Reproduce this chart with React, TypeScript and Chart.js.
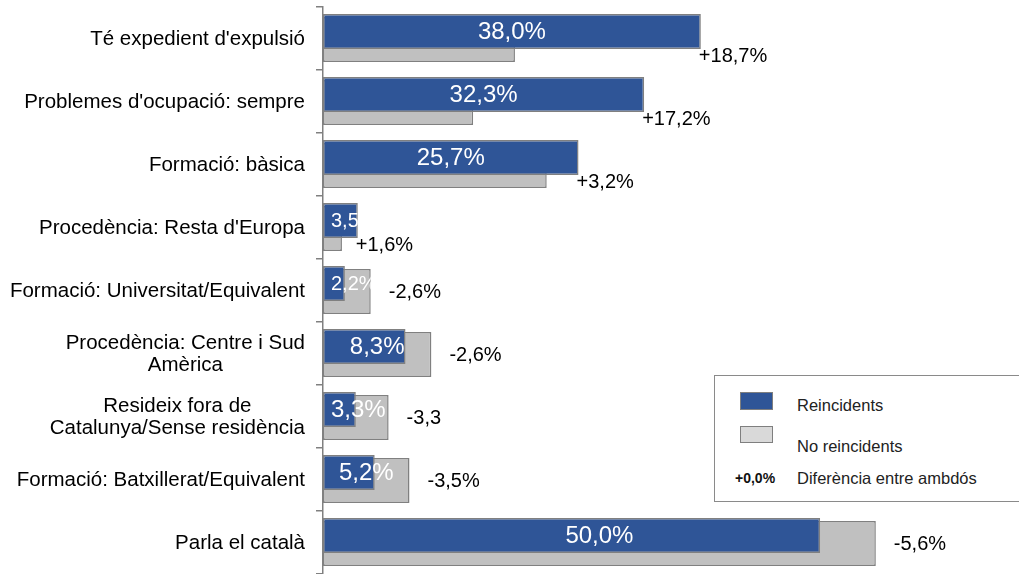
import React, { useEffect, useRef } from "react";
import { Chart, registerables } from "chart.js";

Chart.register(...registerables);

const CATEGORIES: (string | string[])[] = [
  "Té expedient d'expulsió",
  "Problemes d'ocupació: sempre",
  "Formació: bàsica",
  "Procedència: Resta d'Europa",
  "Formació: Universitat/Equivalent",
  ["Procedència: Centre i Sud", "Amèrica"],
  ["Resideix fora de", "Catalunya/Sense residència"],
  "Formació: Batxillerat/Equivalent",
  "Parla el català",
];
const REINCIDENTS = [38.0, 32.3, 25.7, 3.5, 2.2, 8.3, 3.3, 5.2, 50.0];
const NO_REINCIDENTS = [19.3, 15.1, 22.5, 1.9, 4.8, 10.9, 6.6, 8.7, 55.6];
const DIFF_LABELS = ["+18,7%", "+17,2%", "+3,2%", "+1,6%", "-2,6%", "-2,6%", "-3,3", "-3,5%", "-5,6%"];
const X_MIN = 0;
const X_MAX = 70;

const FONT = "'Liberation Sans', Arial, Helvetica, sans-serif";
const BLUE = "#2F5597";
const GRAY = "#C0C0C0";
const EDGE = "#808080";

const overlayPlugin = {
  id: "overlay",
  afterDatasetsDraw(chart: any) {
    const ctx: CanvasRenderingContext2D = chart.ctx;
    const blue = chart.getDatasetMeta(0).data;
    const gray = chart.getDatasetMeta(1).data;
    const yScale = chart.scales.y;
    ctx.save();

    // value labels inside blue bars
    REINCIDENTS.forEach((v, i) => {
      const b: any = blue[i];
      const g: any = gray[i];
      const left = b.base;
      const longer = Math.max(b.x, g.x);
      const text = v.toFixed(1).replace(".", ",") + "%";
      let size = 24;
      ctx.font = `${size}px ${FONT}`;
      let w = ctx.measureText(text).width;
      const avail = (longer - left) * 0.92;
      if (w > avail) {
        size = Math.max(20, (size * avail) / w);
        ctx.font = `${size}px ${FONT}`;
        w = ctx.measureText(text).width;
      }
      let cx = (left + longer) / 2;
      if (cx - w / 2 < left + 8) cx = left + 8 + w / 2;
      ctx.save();
      ctx.beginPath();
      const top = b.y - b.height / 2;
      const bottom = g.y + g.height / 2;
      ctx.rect(left, top, longer - left, bottom - top);
      ctx.clip();
      ctx.fillStyle = "#ffffff";
      ctx.textAlign = "center";
      ctx.textBaseline = "middle";
      ctx.fillText(text, cx, b.y + 1);
      ctx.restore();
    });

    // difference labels
    ctx.font = `20px ${FONT}`;
    ctx.fillStyle = "#000000";
    ctx.textAlign = "left";
    ctx.textBaseline = "middle";
    DIFF_LABELS.forEach((t, i) => {
      const b: any = blue[i];
      const g: any = gray[i];
      const c = yScale.getPixelForValue(i);
      const positive = REINCIDENTS[i] >= NO_REINCIDENTS[i];
      if (positive) {
        ctx.fillText(t, b.x - 2, c + 18);
      } else {
        ctx.fillText(t, Math.max(b.x, g.x) + 18, c + 2);
      }
    });

    // category labels (multi-line blocks centred, blocks right-aligned)
    ctx.font = `20.5px ${FONT}`;
    ctx.fillStyle = "#000000";
    ctx.textAlign = "center";
    ctx.textBaseline = "middle";
    const right = 305;
    const lh = 22;
    CATEGORIES.forEach((cat, i) => {
      const lines = Array.isArray(cat) ? cat : [cat];
      const bw = Math.max(...lines.map((l) => ctx.measureText(l).width));
      const cx = right - bw / 2;
      const c = yScale.getPixelForValue(i);
      const y0 = c - ((lines.length - 1) * lh) / 2;
      lines.forEach((l, k) => ctx.fillText(l, cx, y0 + k * lh + 1));
    });

    ctx.restore();
  },
};

export default function App() {
  const ref = useRef<HTMLCanvasElement | null>(null);

  useEffect(() => {
    if (!ref.current) return;
    const chart = new Chart(ref.current, {
      type: "bar",
      data: {
        labels: CATEGORIES.map((c) => (Array.isArray(c) ? c.join(" ") : c)),
        datasets: [
          {
            label: "Reincidents",
            data: REINCIDENTS,
            backgroundColor: BLUE,
            borderColor: EDGE,
            borderWidth: 1.5,
            borderSkipped: false,
            categoryPercentage: 0.444,
            barPercentage: 2.5,
          } as any,
          {
            label: "No reincidents",
            data: NO_REINCIDENTS,
            backgroundColor: GRAY,
            borderColor: EDGE,
            borderWidth: 1.5,
            borderSkipped: false,
            categoryPercentage: 0.0635,
            barPercentage: 22.5,
          } as any,
        ],
      },
      options: {
        responsive: false,
        animation: false,
        indexAxis: "y",
        layout: { padding: { top: 7, right: 0, bottom: 0, left: 0 } },
        plugins: {
          legend: { display: false },
          tooltip: { enabled: false },
          title: { display: false },
        },
        scales: {
          x: { display: false, min: X_MIN, max: X_MAX },
          y: {
            position: "left",
            offset: true,
            grid: {
              display: true,
              drawOnChartArea: false,
              drawTicks: true,
              tickLength: 7,
              offset: true,
              color: EDGE,
              lineWidth: 1.5,
            },
            border: { display: true, color: EDGE, width: 1.5 },
            ticks: { display: false },
            afterFit: (s: any) => {
              s.width = 323;
            },
          },
        },
      } as any,
      plugins: [overlayPlugin],
    });
    return () => chart.destroy();
  }, []);

  const legendText: React.CSSProperties = {
    position: "absolute",
    fontSize: "16.5px",
    lineHeight: "20px",
    whiteSpace: "nowrap",
    color: "#222",
  };

  return (
    <div
      style={{
        position: "fixed",
        left: 0,
        top: 0,
        width: 1019,
        height: 574,
        overflow: "hidden",
        background: "#ffffff",
        fontFamily: FONT,
      }}
    >
      <canvas ref={ref} width={1019} height={574} style={{ display: "block" }} />
      <div
        style={{
          position: "absolute",
          left: 714,
          top: 375,
          width: 330,
          height: 125,
          border: "1px solid #8a8a8a",
          background: "#ffffff",
        }}
      >
        <div
          style={{
            position: "absolute",
            left: 25,
            top: 16,
            width: 33,
            height: 18,
            boxSizing: "border-box",
            border: "1px solid #7f7f7f",
            background: BLUE,
          }}
        />
        <div style={{ ...legendText, left: 82, top: 19 }}>Reincidents</div>
        <div
          style={{
            position: "absolute",
            left: 25,
            top: 50,
            width: 33,
            height: 17,
            boxSizing: "border-box",
            border: "1px solid #7f7f7f",
            background: "#D9D9D9",
          }}
        />
        <div style={{ ...legendText, left: 82, top: 60 }}>No reincidents</div>
        <div style={{ ...legendText, left: 20, top: 92, fontSize: "14px", fontWeight: 700, color: "#111" }}>+0,0%</div>
        <div style={{ ...legendText, left: 82, top: 92 }}>Diferència entre ambdós</div>
      </div>
    </div>
  );
}
